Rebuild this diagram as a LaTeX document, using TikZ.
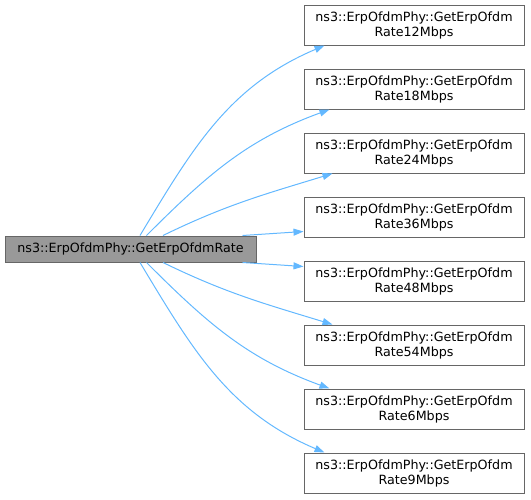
\documentclass[tikz,border=0pt]{standalone}
\usepackage{fontspec}
\setmainfont{DejaVu Sans}
\usetikzlibrary{positioning, arrows.meta}
\definecolor{edgeblue}{HTML}{63B8FF}
\definecolor{boxgray}{HTML}{666666}
\definecolor{fillgray}{HTML}{999999}

\begin{document}
\begin{tikzpicture}[node distance=64pt, on grid,
    fn/.style={draw=boxgray, line width=1pt, minimum width=220pt, minimum height=40pt,
      inner sep=0pt, align=center, font=\fontsize{12.7}{15}\selectfont},
    caller/.style={fn, fill=fillgray, minimum width=251pt, minimum height=26pt},
    call/.style={edgeblue, line width=1pt, -{Triangle[length=10pt,width=7pt]}}]
    \useasboundingbox (0,0) rectangle (531pt,-499pt);

    \node[caller] (main) at (130.5pt,-249pt) {ns3::ErpOfdmPhy::GetErpOfdmRate};
    \node[fn] (r12) at (414pt,-25pt) {ns3::ErpOfdmPhy::GetErpOfdm\\Rate12Mbps};
    \node[fn] (r18) [below=of r12] {ns3::ErpOfdmPhy::GetErpOfdm\\Rate18Mbps};
    \node[fn] (r24) [below=of r18] {ns3::ErpOfdmPhy::GetErpOfdm\\Rate24Mbps};
    \node[fn] (r36) [below=of r24] {ns3::ErpOfdmPhy::GetErpOfdm\\Rate36Mbps};
    \node[fn] (r48) [below=of r36] {ns3::ErpOfdmPhy::GetErpOfdm\\Rate48Mbps};
    \node[fn] (r54) [below=of r48] {ns3::ErpOfdmPhy::GetErpOfdm\\Rate54Mbps};
    \node[fn] (r6) [below=of r54] {ns3::ErpOfdmPhy::GetErpOfdm\\Rate6Mbps};
    \node[fn] (r9) [below=of r6] {ns3::ErpOfdmPhy::GetErpOfdm\\Rate9Mbps};

    \path[call]
        ([xshift=9.5pt]main.north) edge[out=59, in=203] ([xshift=21pt]r12.south west)
        ([xshift=16pt]main.north) edge[out=45, in=200] ([xshift=26pt]r18.south west)
        ([xshift=32.5pt]main.north) edge[out=26, in=197] ([xshift=29pt]r24.south west)
        ([xshift=-14pt]main.north east) edge ([yshift=6pt]r36.south west)
        ([xshift=-14pt]main.south east) edge ([yshift=-6pt]r48.north west)
        ([xshift=32.5pt]main.south) edge[out=-26, in=163] ([xshift=29pt]r54.north west)
        ([xshift=16pt]main.south) edge[out=-45, in=160] ([xshift=26pt]r6.north west)
        ([xshift=9.5pt]main.south) edge[out=-59, in=157] ([xshift=21pt]r9.north west);
\end{tikzpicture}
\end{document}
